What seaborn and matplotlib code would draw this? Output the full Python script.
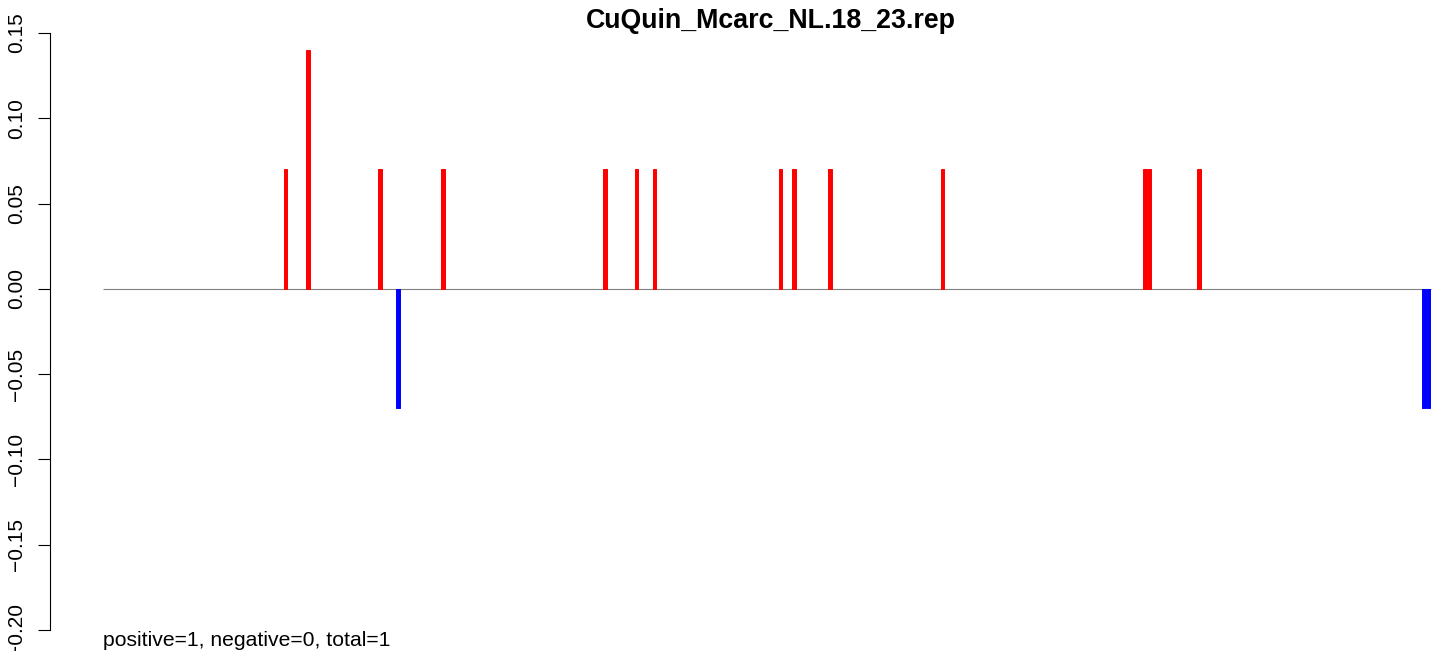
# Recreate R-style barplot of replicate scores
import matplotlib
matplotlib.use("Agg")
import matplotlib.pyplot as plt
import seaborn as sns
import pandas as pd

# chart data
n_bars = 295  # number of positions along x
bar_index = [40, 45, 61, 65, 75, 111, 118, 122, 150, 153, 161, 186, 231, 232, 243, 293, 294]
bar_value = [0.07, 0.14, 0.07, -0.07, 0.07, 0.07, 0.07, 0.07, 0.07, 0.07, 0.07, 0.07,
             0.07, 0.07, 0.07, -0.07, -0.07]
y_ticks = [-0.20, -0.15, -0.10, -0.05, 0.00, 0.05, 0.10, 0.15]
title = "CuQuin_Mcarc_NL.18_23.rep"
footer = "positive=1, negative=0, total=1"

df = pd.DataFrame({"pos": bar_index, "value": bar_value})
df["sign"] = ["pos" if v > 0 else "neg" for v in df["value"]]

sns.set_style("white")
plt.rcParams["font.family"] = ["Liberation Sans", "DejaVu Sans"]
plt.rcParams["text.color"] = "black"
plt.rcParams["ytick.color"] = "black"
plt.rcParams["ytick.labelcolor"] = "black"

W, H = 1441, 651
fig = plt.figure(figsize=(W / 100, H / 100), dpi=100)

# axes placed in pixel terms: y axis line at x=50, 0.15 at y=33, -0.20 at y=630
ax = fig.add_axes([50 / W, (H - 630) / H, (W - 50) / W, 597 / H])

sns.barplot(
    data=df, x="pos", y="value", hue="sign",
    order=list(range(n_bars)),
    palette={"pos": "#ff0000", "neg": "#0000ff"},
    saturation=1, width=0.83, linewidth=0.7, dodge=False, legend=False, ax=ax,
)
for p in ax.patches:
    p.set_edgecolor(p.get_facecolor())

# zero line across all positions
ax.hlines(0, -0.58, n_bars - 1 + 0.42, color="#808080", linewidth=0.8, zorder=0)

ax.set_xlim((50 - 105.625) / 4.5, (W - 105.625) / 4.5)
ax.set_ylim(-0.20, 0.15)
ax.set_xticks([])
ax.set_yticks(y_ticks)
ax.set_yticklabels([f"{t:.2f}".replace("-", "\u2212") for t in y_ticks],
                   rotation=90, va="center", fontsize=15)
ax.tick_params(axis="y", direction="out", length=9, width=0.8, pad=8, left=True,
               colors="black")
ax.set_xlabel("")
ax.set_ylabel("")
for s in ["top", "right", "bottom"]:
    ax.spines[s].set_visible(False)
ax.spines["left"].set_linewidth(0.8)
ax.spines["left"].set_color("black")
ax.patch.set_alpha(0)

fig.text(771 / W, (H - 28) / H, title, ha="center", va="baseline",
         fontsize=19.3, fontweight="bold", color="black")
fig.text(103 / W, (H - 646) / H, footer, ha="left", va="baseline", fontsize=15.2,
         color="black")

fig.savefig("out.png", dpi=100, facecolor="white")
